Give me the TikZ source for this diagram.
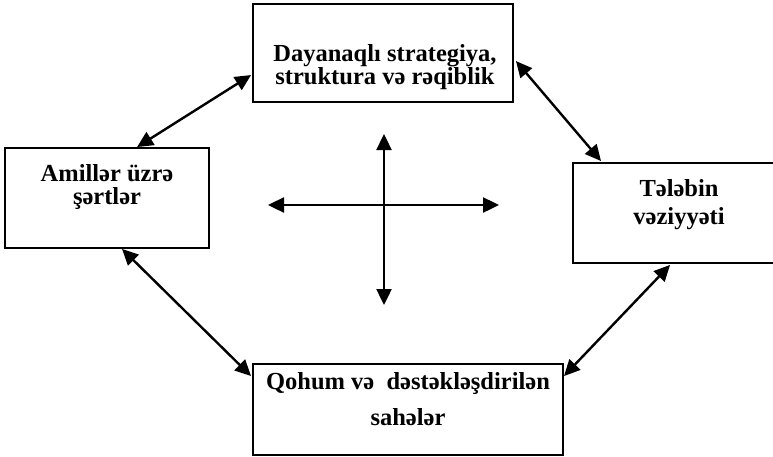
\documentclass[tikz,border=0pt]{standalone}
\usepackage{fontspec}
\setmainfont{Liberation Serif}
\usetikzlibrary{arrows.meta,calc}
\begin{document}
\begin{tikzpicture}[x=1pt,y=-1pt,
  box/.style={draw,line width=1.9pt,rectangle,inner sep=0pt},
  lbl/.style={font=\fontsize{24.5}{26}\selectfont\bfseries,anchor=base,inner sep=0pt},
  link/.style={line width=2.4pt,{Triangle[length=16pt,width=15pt]}-{Triangle[length=16pt,width=15pt]}}]
\useasboundingbox[fill=white] (0,0) rectangle (773,456);

% the four boxes
\node[box,minimum width=260pt,minimum height=98pt] (top) at (383,53) {};
\node[box,minimum width=204pt,minimum height=100pt] (lft) at (107,198) {};
\node[box,minimum width=203pt,minimum height=100pt] (rgt) at (674.5,213) {};
\node[box,minimum width=310pt,minimum height=91pt] (bot) at (408,409.5) {};

% their labels
\node[lbl] (topA) at (385,61) {Dayanaqlı strategiya,};
\node[lbl] (topB) at (385,84.5) {struktura və rəqiblik};
\node[lbl] (lftA) at (107,181) {Amillər üzrə};
\node[lbl] (lftB) at (107,204) {şərtlər};
\node[lbl] (rgtA) at (679,196) {Tələbin};
\node[lbl] (rgtB) at (679,224) {vəziyyəti};
\node[lbl] (botA) at (408,389) {Qohum və\ \ dəstəkləşdirilən};
\node[lbl] (botB) at (408,425) {sahələr};

% links between the boxes
\draw[link] ($(lft.north west)+(133,0)$) -- ($(top.north west)+(-1,72)$);
\draw[link] ($(top.north east)+(2,58)$) -- ($(rgt.north west)+(29,-1)$);
\draw[link] ($(lft.south west)+(118,0)$) -- ($(bot.north west)+(-1,13)$);
\draw[link] ($(rgt.south west)+(98,1)$) -- ($(bot.north east)+(0,13)$);

% central cross
\coordinate (cN) at (384,134);
\coordinate (cS) at (384,305);
\coordinate (cW) at (268,205);
\coordinate (cE) at (499,205);
\draw[link] (cW) -- (cE);
\draw[link] (cN) -- (cS);
\end{tikzpicture}
\end{document}
